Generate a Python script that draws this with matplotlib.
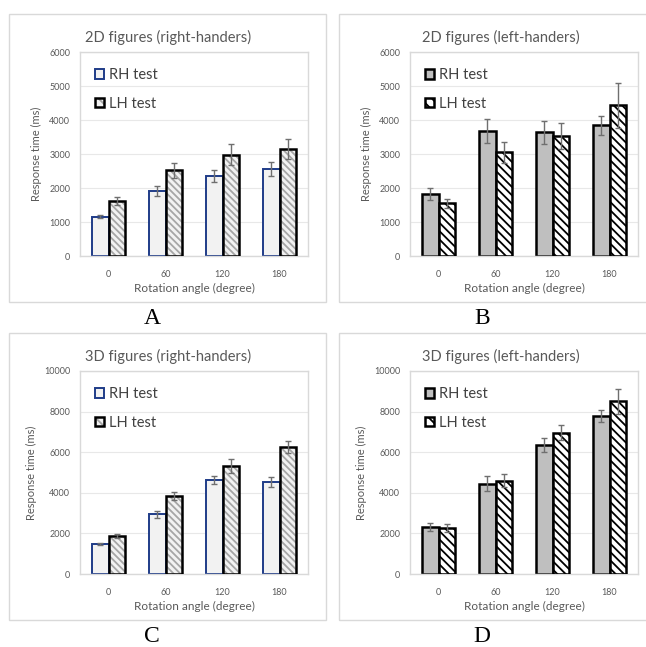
import numpy as np
import matplotlib
matplotlib.use("Agg")
import matplotlib.pyplot as plt
from matplotlib.patches import Rectangle, Patch
from matplotlib.legend_handler import HandlerTuple

# data (ms)
angles = ["0", "60", "120", "180"]

rh_2d_right = [1160, 1910, 2350, 2560]
rh_2d_right_err = [50, 140, 170, 210]
lh_2d_right = [1615, 2525, 2975, 3140]
lh_2d_right_err = [110, 220, 310, 290]

rh_2d_left = [1820, 3680, 3640, 3840]
rh_2d_left_err = [185, 350, 340, 275]
lh_2d_left = [1555, 3055, 3530, 4430]
lh_2d_left_err = [135, 310, 390, 670]

rh_3d_right = [1490, 2940, 4610, 4520]
rh_3d_right_err = [40, 165, 195, 245]
lh_3d_right = [1890, 3840, 5320, 6270]
lh_3d_right_err = [100, 195, 330, 295]

rh_3d_left = [2330, 4450, 6355, 7780]
rh_3d_left_err = [200, 370, 340, 310]
lh_3d_left = [2265, 4600, 6960, 8500]
lh_3d_left_err = [210, 335, 370, 620]

W, H = 646, 647
fig = plt.figure(figsize=(W / 100, H / 100), dpi=100)
plt.rcParams["font.family"] = ["Lato", "DejaVu Sans"]
plt.rcParams["hatch.linewidth"] = 1.3

GREY_TXT = "#595959"
GRID = "#d9d9d9"


def px_axes(left, top, right, bottom):
    return fig.add_axes([left / W, 1 - bottom / H, (right - left) / W, (bottom - top) / H])


def panel_box(left, top, right, bottom):
    fig.patches.append(Rectangle((left / W, 1 - bottom / H), (right - left) / W, (bottom - top) / H,
                                 transform=fig.transFigure, fill=False, edgecolor="#d9d9d9", lw=1.0))


def draw_panel(box, area, title, letter, rh, rh_err, lh, lh_err, ymax, step, right_handers):
    panel_box(*box)
    ax = px_axes(*area)
    x = np.arange(len(angles))
    w = 0.29

    if right_handers:
        rh_face, rh_edge, rh_lw = "#f2f2f2", "#1f3c88", 1.4
        lh_face, hatch_col, hatch = "#f2f2f2", "#a6a6a6", "\\\\\\\\\\"
    else:
        rh_face, rh_edge, rh_lw = "#bfbfbf", "black", 1.8
        lh_face, hatch_col, hatch = "white", "black", "\\\\\\\\"

    ax.bar(x - w / 2, rh, w, color=rh_face, edgecolor=rh_edge, lw=rh_lw, zorder=2)
    ax.bar(x + w / 2, lh, w, color=lh_face, edgecolor=hatch_col, hatch=hatch, lw=0, zorder=2)
    ax.bar(x + w / 2, lh, w, fill=False, edgecolor="black", lw=1.8, zorder=3)

    ax.errorbar(x - w / 2, rh, yerr=rh_err, fmt="none", ecolor="#6f6f6f", elinewidth=1,
                capsize=2.5, capthick=1, zorder=4)
    ax.errorbar(x + w / 2, lh, yerr=lh_err, fmt="none", ecolor="#6f6f6f", elinewidth=1,
                capsize=2.5, capthick=1, zorder=4)

    ax.set_xlim(-0.5, len(angles) - 0.5)
    ax.set_ylim(0, ymax)
    ax.set_yticks(np.arange(0, ymax + 1, step))
    ax.set_xticks(x)
    ax.set_xticklabels(angles)
    ax.tick_params(length=0, labelsize=6.5, colors=GREY_TXT)
    ax.tick_params(axis="x", pad=10)
    ax.tick_params(axis="y", pad=7)
    ax.yaxis.grid(True, color="#e8e8e8", lw=0.8, zorder=0)
    for s in ax.spines.values():
        s.set_color(GRID)
        s.set_linewidth(1.0)

    ax.set_xlabel("Rotation angle (degree)", fontsize=8.5, color=GREY_TXT, labelpad=3)
    ax.set_ylabel("Response time (ms)", fontsize=8, color=GREY_TXT, labelpad=5)

    cx = (box[0] + box[2]) / 2 + 1
    fig.text(cx / W, 1 - (area[1] - 15) / H, title, ha="center", va="center",
             fontsize=10.5, color=GREY_TXT)
    fig.text((box[0] + 143) / W, 1 - (box[3] + 17) / H, letter, ha="center", va="center",
             fontsize=17, family="Liberation Serif", color="black")

    h_rh = Patch(facecolor=rh_face, edgecolor=rh_edge, lw=rh_lw)
    h_lh = (Patch(facecolor=lh_face, edgecolor=hatch_col, hatch="\\\\\\", lw=0),
            Patch(fill=False, edgecolor="black", lw=1.8))
    ax.legend([h_rh, h_lh], ["RH test", "LH test"], loc="upper left",
              bbox_to_anchor=(0.04, 0.95), frameon=False, fontsize=10.5,
              handlelength=0.65, handleheight=0.65, handletextpad=0.3,
              labelspacing=1.0, borderaxespad=0, labelcolor="#404040",
              handler_map={tuple: HandlerTuple(ndivide=1)})
    return ax


draw_panel((9, 14, 326, 302), (80, 52, 308, 256), "2D figures (right-handers)", "A",
           rh_2d_right, rh_2d_right_err, lh_2d_right, lh_2d_right_err, 6000, 1000, True)
draw_panel((339, 14, 660, 302), (410, 52, 638, 256), "2D figures (left-handers)", "B",
           rh_2d_left, rh_2d_left_err, lh_2d_left, lh_2d_left_err, 6000, 1000, False)
draw_panel((9, 333, 326, 620), (80, 371, 308, 574), "3D figures (right-handers)", "C",
           rh_3d_right, rh_3d_right_err, lh_3d_right, lh_3d_right_err, 10000, 2000, True)
draw_panel((339, 333, 660, 620), (410, 371, 638, 574), "3D figures (left-handers)", "D",
           rh_3d_left, rh_3d_left_err, lh_3d_left, lh_3d_left_err, 10000, 2000, False)

fig.savefig("out.png", dpi=100)
